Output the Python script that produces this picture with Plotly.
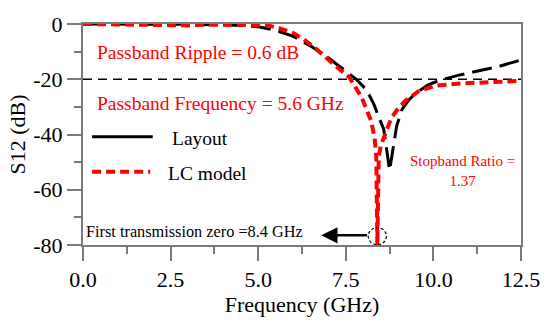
import plotly.graph_objects as go

# S12 of the filter: EM layout simulation vs. lumped LC model
layout_freq = [0, 1, 2, 3, 4, 4.5, 5.0, 5.5, 6.0, 6.5, 7.0, 7.4, 7.8, 8.1, 8.3, 8.45,
               8.58, 8.65, 8.75, 8.85, 8.95, 9.1, 9.3, 9.5, 9.85, 10.2, 10.7, 11.2, 11.8, 12.5]
layout_s12 = [0, 0, 0, -0.1, -0.3, -0.5, -1.0, -2.3, -4.5, -8.0, -12.2, -16, -20, -24, -29, -34,
              -38, -44, -53, -45, -37, -31, -27.5, -25, -22, -20.3, -18.6, -17.2, -15.6, -13]

lc_freq = [0, 1, 2, 2.5, 3.0, 3.5, 4.0, 4.5, 5.0, 5.3, 5.6, 6.0, 6.3, 6.7, 7.1, 7.6, 7.95,
           8.22, 8.32, 8.37, 8.4, 8.44, 8.5, 8.66, 8.8, 9.0, 9.2, 9.57, 10.06, 10.8, 11.76, 12.5]
lc_s12 = [0, -0.1, -0.4, -0.6, -0.5, -0.2, -0.1, -0.3, -0.5, -0.6, -1.5, -3.3, -5.5, -9.5, -14,
          -19.3, -26.5, -35, -41, -48, -80, -48, -44, -39, -34, -30.5, -27.8, -24.4, -22.3,
          -21.5, -21, -20.6]

ref_level = -20          # -20 dB reference line
zero_freq = 8.4          # first transmission zero (GHz)
zero_level = -76.8

x_ticks = [0, 2.5, 5.0, 7.5, 10.0, 12.5]
y_ticks = [0, -20, -40, -60, -80]

FONT = "Liberation Serif"
AXIS_GREY = "#7a7a7a"

fig = go.Figure()

fig.add_trace(go.Scatter(x=[0, 12.5], y=[ref_level, ref_level], mode="lines",
                         line=dict(color="black", width=1.5, dash="9px,6px"),
                         showlegend=False, hoverinfo="skip"))
fig.add_trace(go.Scatter(x=layout_freq, y=layout_s12, mode="lines", name="Layout",
                         line=dict(color="black", width=3, dash="20px,8px"),
                         showlegend=False))
fig.add_trace(go.Scatter(x=lc_freq, y=lc_s12, mode="lines", name="LC model",
                         line=dict(color="#ff0000", width=4, dash="9px,5px"),
                         showlegend=False))

# hand-drawn legend inside the plot
fig.add_shape(type="line", x0=0.26, x1=1.99, y0=-40.8, y1=-40.8, xref="x", yref="y",
              line=dict(color="black", width=3))
fig.add_shape(type="line", x0=0.26, x1=1.92, y0=-53.5, y1=-53.5, xref="x", yref="y",
              line=dict(color="#ff0000", width=4, dash="9px,5px"))

# dashed circle marking the transmission zero
fig.add_shape(type="circle", xref="x", yref="y",
              x0=zero_freq - 0.26, x1=zero_freq + 0.26,
              y0=zero_level - 3.1, y1=zero_level + 3.1,
              line=dict(color="black", width=1.2, dash="3px,2px"))

# arrow pointing to the label
fig.add_annotation(x=6.8, y=-76.5, ax=8.15, ay=-76.5, xref="x", yref="y",
                   axref="x", ayref="y", text="", showarrow=True,
                   arrowhead=2, arrowsize=1.3, arrowwidth=2.5, arrowcolor="black")

red = "#ff0000"
fig.add_annotation(x=0.35, y=-10.4, text="Passband Ripple = 0.6 dB", showarrow=False,
                   xanchor="left", yanchor="middle", font=dict(family=FONT, size=19.5, color=red))
fig.add_annotation(x=0.35, y=-28.8, text="Passband Frequency = 5.6 GHz", showarrow=False,
                   xanchor="left", yanchor="middle", font=dict(family=FONT, size=19.5, color=red))
fig.add_annotation(x=2.48, y=-41.5, text="Layout", showarrow=False,
                   xanchor="left", yanchor="middle", font=dict(family=FONT, size=19.5, color="black"))
fig.add_annotation(x=2.38, y=-54.1, text="LC model", showarrow=False,
                   xanchor="left", yanchor="middle", font=dict(family=FONT, size=19.5, color="black"))
fig.add_annotation(x=10.82, y=-53.3, text="Stopband Ratio =<br>1.37", showarrow=False,
                   xanchor="center", yanchor="middle", align="center",
                   font=dict(family=FONT, size=15, color=red))
fig.add_annotation(x=0.02, y=-75.0, text="First transmission zero =8.4 GHz", showarrow=False,
                   xanchor="left", yanchor="middle", font=dict(family=FONT, size=16.3, color="black"))

fig.update_layout(
    width=552, height=320,
    margin=dict(l=83, r=29, t=19, b=67),
    paper_bgcolor="white", plot_bgcolor="white",
    font=dict(family=FONT, size=20, color="black"),
    showlegend=False,
)
fig.update_xaxes(
    range=[0, 12.5], tickvals=x_ticks, ticktext=[f"{v:.1f}" for v in x_ticks],
    showgrid=False, zeroline=False,
    showline=True, linecolor=AXIS_GREY, linewidth=2, mirror=True,
    ticks="outside", ticklen=14, tickwidth=2, tickcolor=AXIS_GREY,
    minor=dict(ticks="outside", ticklen=7, tickwidth=2, tickcolor=AXIS_GREY, dtick=1.25,
               tick0=0, showgrid=False),
    title=dict(text="Frequency (GHz)", font=dict(family=FONT, size=22), standoff=0),
    tickfont=dict(family=FONT, size=22),
)
fig.update_yaxes(
    range=[-80, 0], tickvals=y_ticks, ticktext=[str(v) for v in y_ticks],
    showgrid=False, zeroline=False,
    showline=True, linecolor=AXIS_GREY, linewidth=2, mirror=True,
    ticks="outside", ticklen=14, tickwidth=2, tickcolor=AXIS_GREY,
    minor=dict(ticks="outside", ticklen=7, tickwidth=2, tickcolor=AXIS_GREY, dtick=10,
               tick0=0, showgrid=False),
    title=dict(text="S12 (dB)", font=dict(family=FONT, size=22), standoff=2),
    tickfont=dict(family=FONT, size=22),
)

fig.write_html("out.html")
